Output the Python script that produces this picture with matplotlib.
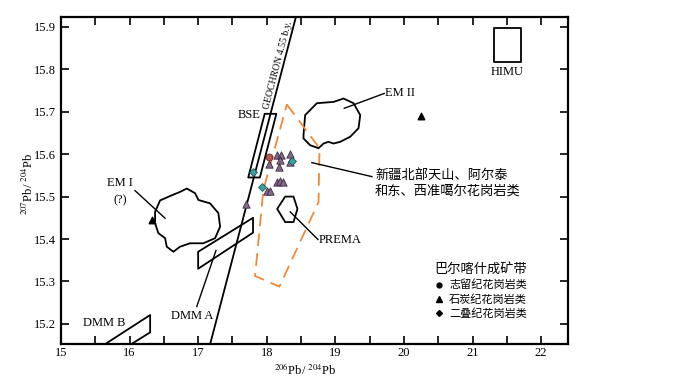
import numpy as np
import matplotlib.pyplot as plt
from matplotlib.patches import Polygon
from matplotlib.lines import Line2D
from matplotlib.ticker import MultipleLocator

plt.rcParams['font.family'] = ['Liberation Serif', 'Noto Sans CJK SC']
plt.rcParams['mathtext.fontset'] = 'stix'

# Pb isotope reservoir fields (206Pb/204Pb, 207Pb/204Pb)
geochron = [(17.174, 15.152), (18.425, 15.923)]

bse_x = [17.73, 17.90, 18.14, 17.97]
bse_y = [15.545, 15.545, 15.695, 15.695]

himu_x = [21.31, 21.71, 21.71, 21.31]
himu_y = [15.818, 15.818, 15.898, 15.898]

dmma_x = [17.0, 17.8, 17.8, 17.0]
dmma_y = [15.33, 15.415, 15.45, 15.37]

dmmb_x = [15.40, 16.30, 16.30, 15.80]
dmmb_y = [15.127, 15.221, 15.180, 15.130]

prema_x = [18.152, 18.269, 18.390, 18.448, 18.390, 18.269]
prema_y = [15.471, 15.500, 15.500, 15.471, 15.440, 15.440]

em1_x = [16.372, 16.445, 16.615, 16.736, 16.834, 16.955, 17.004, 17.174, 17.295,
         17.320, 17.247, 17.076, 16.882, 16.736, 16.639, 16.542, 16.518, 16.420, 16.372]
em1_y = [15.464, 15.491, 15.503, 15.511, 15.519, 15.508, 15.492, 15.484, 15.461,
         15.429, 15.402, 15.390, 15.390, 15.382, 15.370, 15.382, 15.402, 15.414, 15.437]

em2_x = [18.536, 18.560, 18.731, 18.973, 19.119, 19.265, 19.363, 19.338, 19.217,
         19.071, 18.973, 18.900, 18.828, 18.755, 18.633, 18.536]
em2_y = [15.645, 15.692, 15.720, 15.723, 15.731, 15.720, 15.692, 15.661, 15.641,
         15.629, 15.625, 15.629, 15.625, 15.614, 15.621, 15.637]

# Tianshan / Altai / Junggar granites field (dashed)
nx_x = [18.293, 18.769, 18.755, 18.185, 17.83, 17.95]
nx_y = [15.717, 15.614, 15.487, 15.288, 15.313, 15.515]

# Balkhash belt samples
sil_x = [18.035]
sil_y = [15.593]
carb_x = [18.031, 18.152, 18.215, 18.191, 18.181, 18.346, 18.346,
          18.152, 18.200, 18.244, 18.002, 18.050, 17.700]
carb_y = [15.577, 15.597, 15.597, 15.586, 15.570, 15.600, 15.581,
          15.535, 15.537, 15.534, 15.514, 15.514, 15.482]
carb_black_x = [16.333, 20.25]
carb_black_y = [15.445, 15.690]
perm_x = [17.806, 17.926, 18.361]
perm_y = [15.559, 15.523, 15.583]

fig = plt.figure(figsize=(6.85, 3.81), dpi=100)
ax = fig.add_axes([0.089, 0.0963, 0.740, 0.859])
ax.set_xlim(15, 22.39)
ax.set_ylim(15.152, 15.923)

lw = 1.3
for xs, ys in [(bse_x, bse_y), (himu_x, himu_y), (dmma_x, dmma_y), (dmmb_x, dmmb_y),
               (prema_x, prema_y), (em1_x, em1_y), (em2_x, em2_y)]:
    ax.add_patch(Polygon(np.column_stack([xs, ys]), closed=True, fill=False,
                         ec='black', lw=lw, joinstyle='round'))

ax.add_patch(Polygon(np.column_stack([nx_x, nx_y]), closed=True, fill=False,
                     ec='#ee8a3a', lw=1.3, ls=(0, (7, 4))))

ax.axline(geochron[0], geochron[1], color='black', lw=1.3)

# geochron label, rotated along the line
p0 = ax.transData.transform(geochron[0])
p1 = ax.transData.transform(geochron[1])
ang = np.degrees(np.arctan2(p1[1] - p0[1], p1[0] - p0[0]))
ax.text(18.17, 15.81, 'GEOCHRON 4.55 b.y.', rotation=ang, rotation_mode='anchor',
        ha='center', va='center', fontsize=7)

# samples
ax.scatter(carb_x, carb_y, marker='^', s=28, c='#86688a', edgecolors='#3c2a44', lw=0.6, zorder=3)
ax.scatter(carb_black_x, carb_black_y, marker='^', s=22, c='black', zorder=3)
ax.scatter(sil_x, sil_y, marker='o', s=24, c='#b8584a', edgecolors='#5a2a2a', lw=0.6, zorder=3)
ax.scatter(perm_x, perm_y, marker='D', s=16, c='#3aa3a0', edgecolors='#1d5a5a', lw=0.6, zorder=3)

# field labels
fs = 9
ax.text(17.743, 15.692, 'BSE', ha='center', va='center', fontsize=fs)
ax.text(21.50, 15.794, 'HIMU', ha='center', va='center', fontsize=fs)
ax.text(19.73, 15.745, 'EM II', ha='left', va='center', fontsize=fs)
ax.plot([19.713, 19.13], [15.743, 15.708], color='black', lw=1)
ax.text(15.861, 15.531, 'EM I', ha='center', va='center', fontsize=fs)
ax.text(15.861, 15.492, '(?)', ha='center', va='center', fontsize=fs)
ax.plot([16.080, 16.518], [15.514, 15.449], color='black', lw=1)
ax.text(16.92, 15.219, 'DMM A', ha='center', va='center', fontsize=fs)
ax.plot([16.98, 17.26], [15.241, 15.373], color='black', lw=1)
ax.text(15.63, 15.203, 'DMM B', ha='center', va='center', fontsize=fs)
ax.text(18.76, 15.398, 'PREMA', ha='left', va='center', fontsize=fs)
ax.plot([18.342, 18.746], [15.464, 15.399], color='black', lw=1)
ax.text(19.58, 15.532, '新疆北部天山、阿尔泰\n和东、西准噶尔花岗岩类', ha='left', va='center',
        fontsize=9.5, family=['Noto Sans CJK SC'], linespacing=1.25)
ax.plot([18.658, 19.534], [15.580, 15.547], color='black', lw=1)

# legend
handles = [Line2D([], [], marker='o', ls='', color='black', ms=3.5),
           Line2D([], [], marker='^', ls='', color='black', ms=4.5),
           Line2D([], [], marker='D', ls='', color='black', ms=3)]
labels = ['志留纪花岗岩类', '石炭纪花岗岩类', '二叠纪花岗岩类']
ax.legend(handles, labels, title='巴尔喀什成矿带', loc='upper left',
          bbox_to_anchor=(0.735, 0.248), frameon=False,
          prop={'family': ['Noto Sans CJK SC'], 'size': 8},
          title_fontproperties={'family': ['Noto Sans CJK SC'], 'size': 9.5},
          handletextpad=0.4, labelspacing=0.32, handlelength=1, borderaxespad=0,
          borderpad=0)

# axes styling
ax.xaxis.set_major_locator(MultipleLocator(1))
ax.xaxis.set_minor_locator(MultipleLocator(0.5))
ax.yaxis.set_major_locator(MultipleLocator(0.1))
ax.tick_params(which='both', direction='in', top=True, right=True, length=5.5,
               width=1.2, labelsize=9)
ax.tick_params(axis='x', pad=2)
for s in ax.spines.values():
    s.set_linewidth(1.6)

ax.set_xlabel(r'$^{206}$Pb/ $^{204}$Pb', fontsize=9, va='center')
ax.xaxis.set_label_coords(0.481, -0.078)
ax.set_ylabel(r'$^{207}$Pb/ $^{204}$Pb', fontsize=9, va='center')
ax.yaxis.set_label_coords(-0.065, 0.49)

fig.savefig('out.png', dpi=100)
